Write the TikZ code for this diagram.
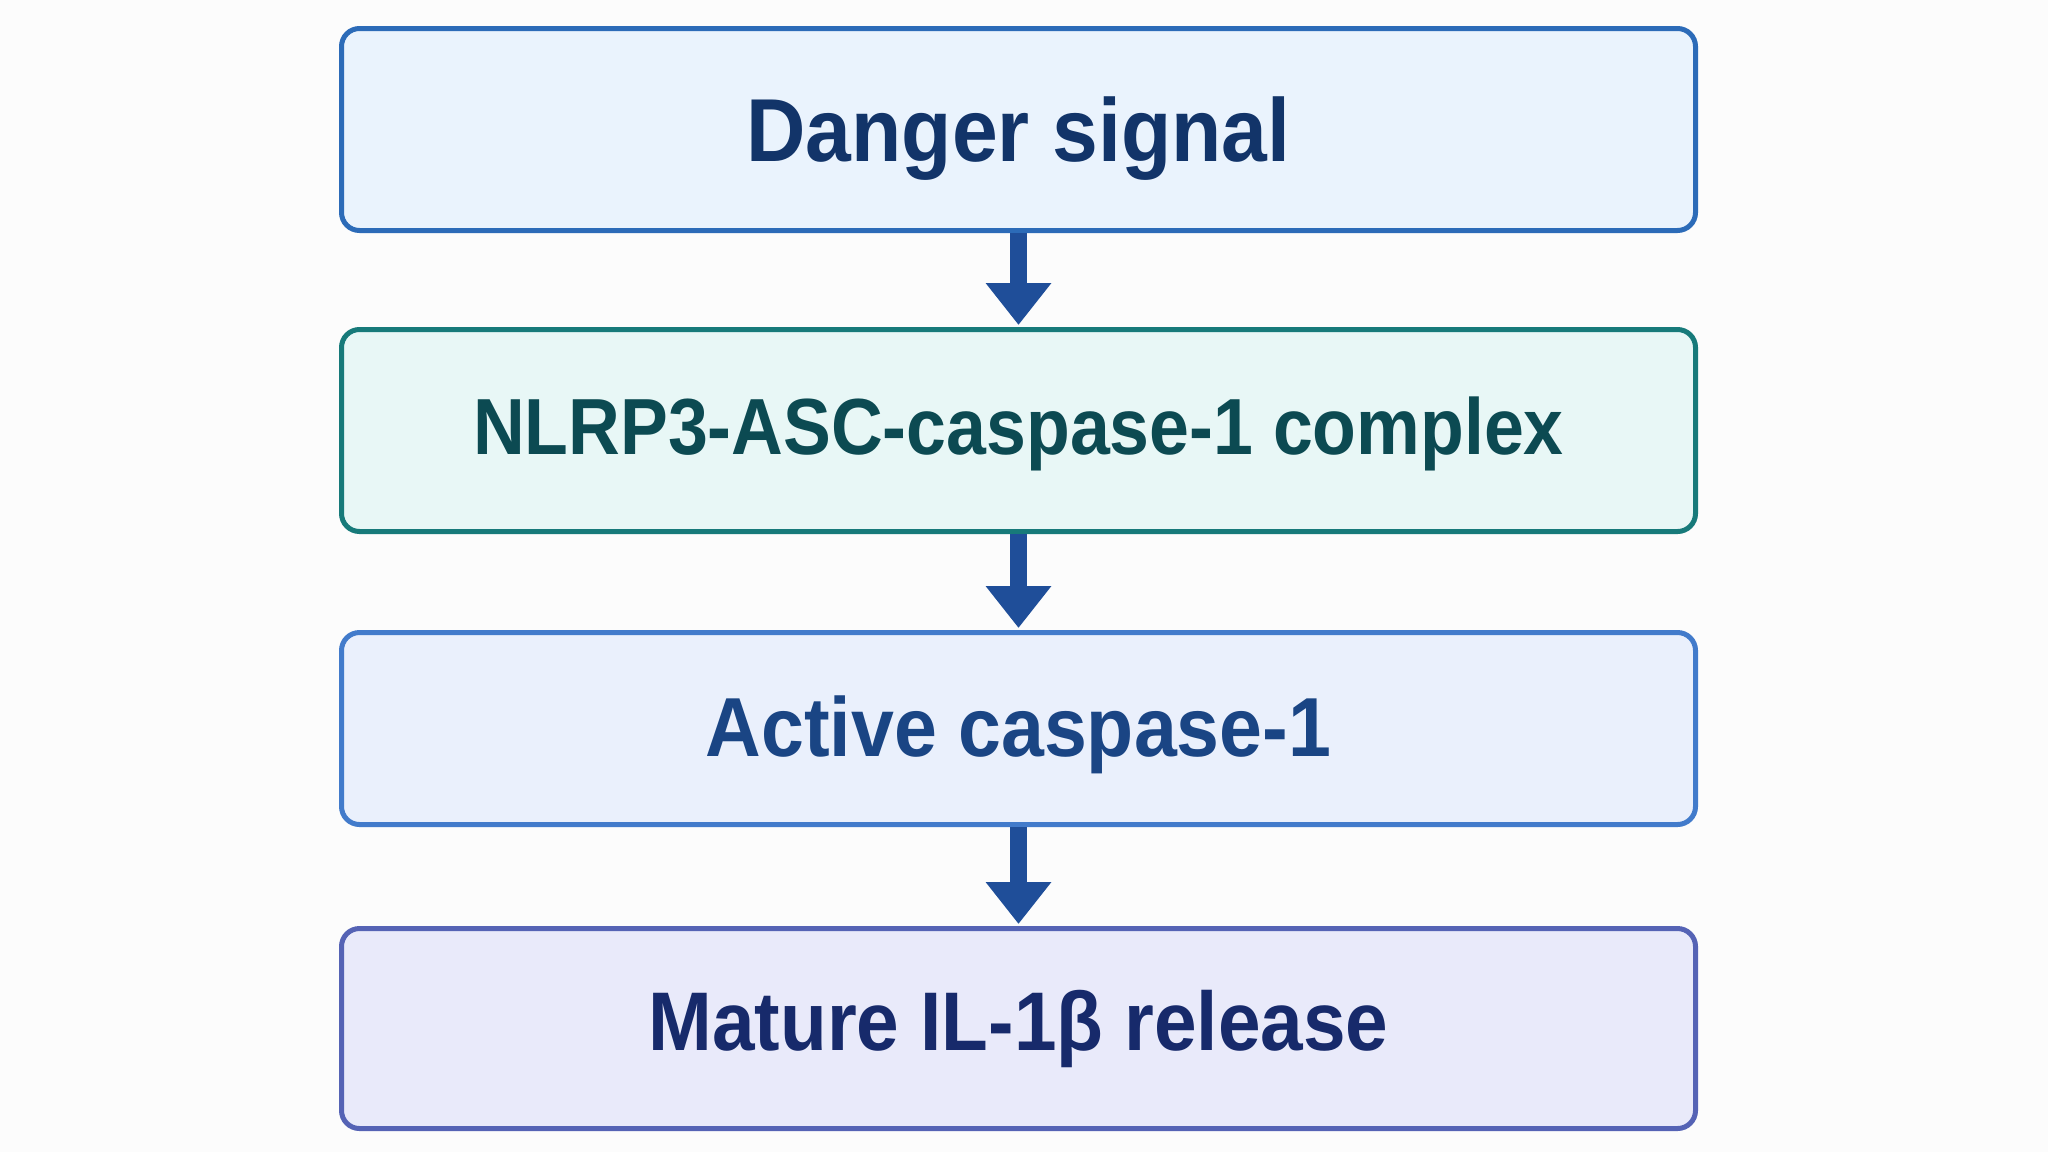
\documentclass[tikz,border=0pt]{standalone}
\usepackage{fontspec}
\setmainfont{Liberation Sans}
\newfontfamily\boxfont[FakeStretch=0.92]{Liberation Sans}
\newfontfamily\complexfont[FakeStretch=0.90]{Liberation Sans}
\usepackage{xcolor}
\usetikzlibrary{arrows.meta,positioning}
\definecolor{SignalLine}{HTML}{2C6BB8}
\definecolor{SignalFill}{HTML}{EAF3FD}
\definecolor{SignalText}{HTML}{123469}
\definecolor{ComplexLine}{HTML}{177A7A}
\definecolor{ComplexFill}{HTML}{E8F7F6}
\definecolor{ComplexText}{HTML}{0C4A52}
\definecolor{CaspLine}{HTML}{427BCB}
\definecolor{CaspFill}{HTML}{EAF0FC}
\definecolor{CaspText}{HTML}{1A4584}
\definecolor{ReleaseLine}{HTML}{5563B5}
\definecolor{ReleaseFill}{HTML}{E9EAFA}
\definecolor{ReleaseText}{HTML}{172A6B}
\definecolor{FlowArrow}{HTML}{1F4E99}

\begin{document}
\begin{tikzpicture}[
  x=0.5pt, y=-0.5pt,
  box/.style={draw,rounded corners=9pt,line width=2.5pt,minimum width=677pt,
    inner sep=0pt,align=center,text depth=0pt},
  signalbox/.style={box,draw=SignalLine,fill=SignalFill,text=SignalText,minimum height=101pt,
    text height=32pt,font=\boxfont\fontsize{44.7}{48}\selectfont\bfseries},
  complexbox/.style={box,draw=ComplexLine,fill=ComplexFill,text=ComplexText,minimum height=101pt,
    text height=28.5pt,font=\complexfont\fontsize{39.8}{44}\selectfont\bfseries},
  caspbox/.style={box,draw=CaspLine,fill=CaspFill,text=CaspText,minimum height=96pt,
    text height=30pt,font=\boxfont\fontsize{41.9}{46}\selectfont\bfseries},
  releasebox/.style={box,draw=ReleaseLine,fill=ReleaseFill,text=ReleaseText,minimum height=100pt,
    text height=29.5pt,font=\boxfont\fontsize{41.6}{46}\selectfont\bfseries},
  arrow/.style={-{Triangle[width=31.5pt,length=21pt]},line width=8.5pt,draw=FlowArrow,fill=FlowArrow,shorten >=1pt}
]
  \fill[white!99!black] (0,0) rectangle (2048,1152);
  \useasboundingbox (0,0) rectangle (2048,1152);

  \node[signalbox] (danger) at (1018.5,129.5) {Danger signal};
  \node[complexbox, below=47pt of danger] (complex) {\raisebox{2.2pt}{NLRP3-ASC-caspase-1 complex}};
  \node[caspbox, below=48pt of complex] (casp) {\raisebox{1pt}{Active caspase-1}};
  \node[releasebox, below=49.5pt of casp] (release) {\raisebox{3.7pt}{Mature IL-1β release}};

  \draw[arrow] (danger) -- (complex);
  \draw[arrow] (complex) -- (casp);
  \draw[arrow] (casp) -- (release);
\end{tikzpicture}
\end{document}
